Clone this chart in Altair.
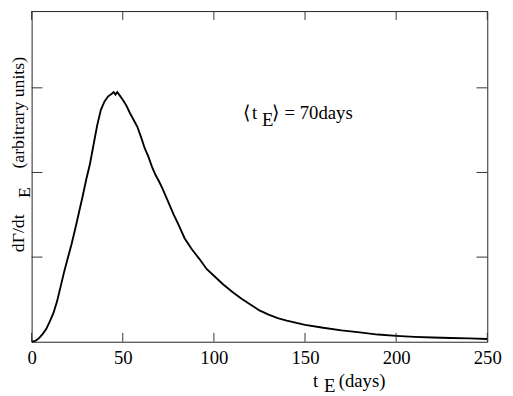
import altair as alt
import pandas as pd

# Curve values
t_days = [0, 2, 4, 6, 8, 10, 12, 14, 16, 18, 20, 22, 24, 26, 28, 30, 32, 34, 36, 38,
          40, 42, 44, 45, 46, 47, 48, 50, 52, 54, 56, 58, 60, 62, 64, 66, 68, 70, 72,
          74, 76, 78, 80, 84, 88, 92, 96, 100, 105, 110, 115, 120, 125, 130, 135, 140,
          150, 160, 170, 180, 190, 200, 210, 220, 230, 240, 250]
rate = [0.0, 0.01, 0.04, 0.09, 0.15, 0.24, 0.34, 0.48, 0.66, 0.84, 1.00, 1.16, 1.34,
        1.53, 1.72, 1.92, 2.10, 2.33, 2.56, 2.74, 2.84, 2.90, 2.93, 2.95, 2.92, 2.95,
        2.92, 2.86, 2.79, 2.70, 2.62, 2.54, 2.42, 2.29, 2.19, 2.07, 1.97, 1.89, 1.80,
        1.70, 1.60, 1.50, 1.41, 1.22, 1.09, 0.98, 0.86, 0.78, 0.68, 0.59, 0.51, 0.44,
        0.37, 0.32, 0.28, 0.25, 0.20, 0.165, 0.135, 0.11, 0.085, 0.07, 0.058, 0.05,
        0.045, 0.04, 0.033]

x_ticks = [0, 50, 100, 150, 200, 250]
y_ticks = [1, 2, 3]

annot_parts = ["\u27e8", "t", "E", "\u27e9", "= 70days"]
xtitle_parts = ["t", "E", "(days)"]
ytitle_parts = ["d\u0393/dt", "E", "(arbitrary units)"]

W, H = 463, 336
FONT = "Liberation Serif"

curve = pd.DataFrame({"t": t_days, "r": rate})
xt = pd.DataFrame({"v": x_ticks})
yt = pd.DataFrame({"v": y_ticks})
one = pd.DataFrame({"k": [0]})

xs = alt.Scale(domain=[0, 250], nice=False, zero=False)
ys = alt.Scale(domain=[0, 3.907], nice=False, zero=False)

x_axis = alt.Axis(values=x_ticks, labelFont=FONT, labelFontSize=19, labelColor="black",
                  ticks=False, domain=False, grid=False, labelPadding=7,
                  labelFlush=False, title=None, format="d")

line = alt.Chart(curve).mark_line(color="black", strokeWidth=1.9).encode(
    x=alt.X("t:Q", scale=xs, axis=x_axis),
    y=alt.Y("r:Q", scale=ys, axis=None),
)

tick_color = "#333333"
xb = alt.Chart(xt).mark_rule(color=tick_color, strokeWidth=1).encode(
    x=alt.X("v:Q", scale=xs, axis=x_axis), y=alt.value(H), y2=alt.value(H - 9))
xtop = alt.Chart(xt).mark_rule(color=tick_color, strokeWidth=1).encode(
    x=alt.X("v:Q", scale=xs, axis=x_axis), y=alt.value(0), y2=alt.value(9))
yl = alt.Chart(yt).mark_rule(color=tick_color, strokeWidth=1).encode(
    y=alt.Y("v:Q", scale=ys, axis=None), x=alt.value(0), x2=alt.value(11))
yr = alt.Chart(yt).mark_rule(color=tick_color, strokeWidth=1).encode(
    y=alt.Y("v:Q", scale=ys, axis=None), x=alt.value(W - 11), x2=alt.value(W))


def txt(s, x, y, size=18, angle=0):
    kw = dict(font=FONT, fontSize=size, align="left", baseline="alphabetic", color="black")
    if angle:
        kw["angle"] = angle
    return alt.Chart(one).mark_text(**kw).encode(
        x=alt.value(x), y=alt.value(y), text=alt.value(s))


texts = [
    txt(annot_parts[0], 214.5, 109.5, 19),
    txt(annot_parts[1], 224, 109.5, 19),
    txt(annot_parts[2], 234, 117, 19),
    txt(annot_parts[3], 244.5, 109.5, 19),
    txt(annot_parts[4], 257, 109.5, 19),
    txt(xtitle_parts[0], 286, 382, 19),
    txt(xtitle_parts[1], 297, 387, 19),
    txt(xtitle_parts[2], 312, 382, 19),
    txt(ytitle_parts[0], -8, 245, 18, 270),
    txt(ytitle_parts[1], -2, 190, 18, 270),
    txt(ytitle_parts[2], -8, 160, 18, 270),
]

chart = alt.layer(line, xb, xtop, yl, yr, *texts).properties(
    width=W, height=H,
    padding={"left": 24, "top": 0, "right": 18, "bottom": 52},
    autosize=alt.AutoSizeParams(type="none"),
).configure_view(
    stroke="#222222", strokeWidth=1
)

chart.save("out.html", embed_options={"renderer": "svg", "actions": False})
